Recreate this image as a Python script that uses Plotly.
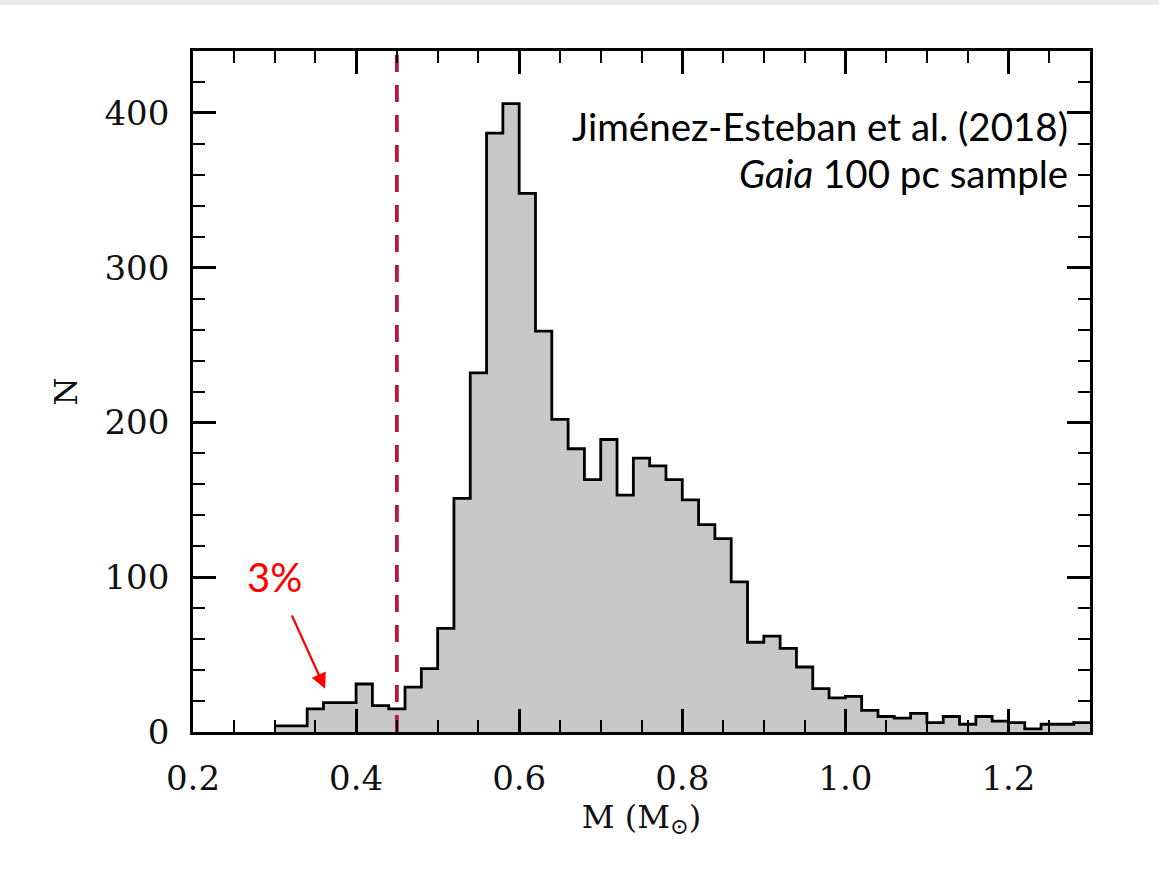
import plotly.graph_objects as go

# ---- data ----
bin_left = [0.30, 0.32, 0.34, 0.36, 0.38, 0.40, 0.42, 0.44, 0.46, 0.48,
            0.50, 0.52, 0.54, 0.56, 0.58, 0.60, 0.62, 0.64, 0.66, 0.68,
            0.70, 0.72, 0.74, 0.76, 0.78, 0.80, 0.82, 0.84, 0.86, 0.88,
            0.90, 0.92, 0.94, 0.96, 0.98, 1.00, 1.02, 1.04, 1.06, 1.08,
            1.10, 1.12, 1.14, 1.16, 1.18, 1.20, 1.22, 1.24, 1.26, 1.28]
counts = [4, 4, 15, 19, 19, 31, 17, 15, 29, 41,
          67, 151, 232, 387, 406, 348, 259, 202, 183, 163,
          189, 153, 177, 172, 163, 150, 134, 125, 97, 58,
          62, 54, 42, 28, 22, 23, 14, 10, 9, 12,
          6, 10, 5, 10, 7, 6, 2, 5, 5, 6]
bin_width = 0.02
cut_mass = 0.45
x_range = [0.2, 1.3]
y_range = [0, 440]
x_ticks = [0.2, 0.4, 0.6, 0.8, 1.0, 1.2]
x_ticklabels = ["0.2", "0.4", "0.6", "0.8", "1.0", "1.2"]
y_ticks = [0, 100, 200, 300, 400]
y_ticklabels = ["0", "100", "200", "300", "400"]

# step outline: edges with value held to the right
step_x = bin_left + [round(bin_left[-1] + bin_width, 4)]
step_y = counts + [counts[-1]]

fig = go.Figure()
fig.add_trace(go.Scatter(
    x=step_x, y=step_y, mode="lines", line=dict(shape="hv", color="black", width=2.8),
    fill="tozeroy", fillcolor="#c8c8c8", hoverinfo="skip", showlegend=False))
fig.add_trace(go.Scatter(
    x=[cut_mass, cut_mass], y=y_range, mode="lines",
    line=dict(color="#b8183a", width=3.8, dash="17px,13px"),
    hoverinfo="skip", showlegend=False))

tick_font = dict(family="DejaVu Serif", size=34, color="#111111")
axis_common = dict(showline=True, linecolor="black", linewidth=2.8, mirror="allticks",
                   ticks="inside", tickwidth=2.6, tickcolor="black", ticklen=23,
                   showgrid=False, zeroline=False, tickfont=tick_font)

fig.update_xaxes(range=x_range, tickvals=x_ticks, ticktext=x_ticklabels,
                 minor=dict(dtick=0.05, tick0=0.2, ticks="inside", ticklen=12,
                            tickwidth=2.2, tickcolor="black", showgrid=False),
                 title=dict(text="M (M<sub>⊙</sub>)", font=dict(family="DejaVu Serif", size=32, color="#111111"),
                            standoff=4),
                 ticklabelstandoff=14, **axis_common)
fig.update_yaxes(range=y_range, tickvals=y_ticks, ticktext=y_ticklabels,
                 minor=dict(dtick=20, tick0=0, ticks="inside", ticklen=12,
                            tickwidth=2.2, tickcolor="black", showgrid=False),
                 title=dict(text="N", font=dict(family="DejaVu Serif", size=32, color="#111111"),
                            standoff=18),
                 ticklabelstandoff=14, **axis_common)

fig.add_annotation(x=0.9777, y=(732 - 126) / 681, xref="paper", yref="paper",
                   text="Jiménez-Esteban et al. (2018)", showarrow=False,
                   xanchor="right", yanchor="middle",
                   font=dict(family="Lato", size=38.5, color="black"))
fig.add_annotation(x=0.9777, y=(732 - 173) / 681, xref="paper", yref="paper",
                   text="<i>Gaia</i> 100 pc sample", showarrow=False,
                   xanchor="right", yanchor="middle",
                   font=dict(family="Lato", size=38.5, color="black"))
fig.add_annotation(x=0.362, y=28, ax=0.30, ay=100, xref="x", yref="y",
                   axref="x", ayref="y", text="3%", showarrow=True,
                   startstandoff=14,
                   arrowhead=2, arrowsize=1.4, arrowwidth=2.2, arrowcolor="#ff0000",
                   font=dict(family="Lato", size=40, color="#ff0000"))

# light grey strip of the slide border at the top
fig.add_shape(type="rect", xref="paper", yref="paper",
              x0=-193 / 897, x1=(1159 - 193) / 897,
              y0=(732 - 5) / 681, y1=(732 + 0) / 681 + 0.1,
              fillcolor="#ececec", line=dict(width=0), layer="below")

fig.update_layout(width=1159, height=885, margin=dict(l=193, r=69, t=51, b=153),
                  plot_bgcolor="white", paper_bgcolor="white")

fig.write_html("out.html")
